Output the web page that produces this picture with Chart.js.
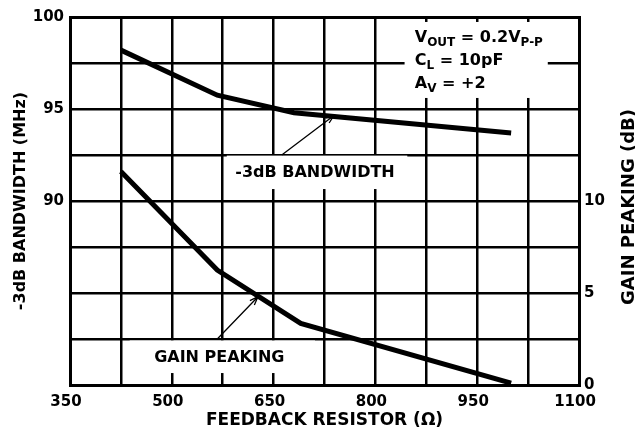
<!DOCTYPE html>
<html lang="en">
<head>
  <meta charset="UTF-8" />
  <title>Bandwidth and Gain Peaking vs Feedback Resistor</title>
  <script src="https://cdn.jsdelivr.net/npm/chart.js"></script>
  <style>
    body { margin: 0; background: #fff; }
    canvas { display: block; }
  </style>
</head>
<body>
  <canvas id="chart" width="635" height="432"></canvas>

  <script>
    // data
    const bwResistor = [425, 567, 680, 1000];
    const bwMHz      = [98.2, 95.75, 94.8, 93.7];
    const gpResistor = [425, 567, 690, 1000];
    const gpDB       = [11.6, 6.25, 3.35, 0.1];

    // tick labels shown (grid every half step)
    const xTickLabels  = [350, 500, 650, 800, 950, 1100];
    const bwTickLabels = [90, 95, 100];
    const gpTickLabels = [0, 5, 10];

    const FONT = 'DejaVu Sans';
    const bold = size => ({ family: FONT, size: size, weight: 'bold' });

    // white boxes, labels and arrows, placed in data units (x: ohm, y: MHz)
    const overlay = {
      id: 'overlay',
      beforeDatasetsDraw(chart) {
        const ctx = chart.ctx, x = chart.scales.x, y = chart.scales.y;
        const box = (x0, x1, y0, y1) => {
          const l = x.getPixelForValue(x0), r = x.getPixelForValue(x1);
          const t = y.getPixelForValue(y0), b = y.getPixelForValue(y1);
          ctx.fillRect(l, t, r - l, b - t);
        };
        ctx.save();
        ctx.fillStyle = '#fff';
        box(843, 1054, 99.73, 95.6);     // conditions box
        ctx.fillRect(x.getPixelForValue(581), y.getPixelForValue(92.5) + 0.6,
                     x.getPixelForValue(847) - x.getPixelForValue(581),
                     y.getPixelForValue(90.65) - y.getPixelForValue(92.5) - 0.6);
        box(438, 711, 82.42, 80.65);      // gain peaking label box
        ctx.restore();
      },
      afterDatasetsDraw(chart) {
        const ctx = chart.ctx, x = chart.scales.x, y = chart.scales.y;
        const px = v => x.getPixelForValue(v), py = v => y.getPixelForValue(v);
        ctx.save();
        ctx.fillStyle = '#000';
        ctx.strokeStyle = '#000';
        ctx.textBaseline = 'alphabetic';

        ctx.font = 'bold 16px ' + FONT;
        ctx.textAlign = 'center';
        ctx.fillText('-3dB BANDWIDTH', px(711), py(91.3));
        ctx.fillText('GAIN PEAKING', px(570), py(81.25));

        // conditions text with subscripts
        ctx.textAlign = 'left';
        const line = (parts, yv) => {
          let cx = px(858);
          const base = py(yv);
          parts.forEach(([txt, sub]) => {
            ctx.font = 'bold ' + (sub ? 12 : 16) + 'px ' + FONT;
            ctx.fillText(txt, cx, base + (sub ? 4 : 0));
            cx += ctx.measureText(txt).width;
          });
        };
        line([['V'], ['OUT', 1], [' = 0.2V'], ['P-P', 1]], 98.64);
        line([['C'], ['L', 1], [' = 10pF']], 97.39);
        line([['A'], ['V', 1], [' = +2']], 96.14);

        // arrows
        const arrow = (x0, y0, x1, y1) => {
          const ax = px(x0), ay = py(y0), bx = px(x1), by = py(y1);
          const ang = Math.atan2(by - ay, bx - ax);
          ctx.lineWidth = 1.3;
          ctx.beginPath();
          ctx.moveTo(ax, ay); ctx.lineTo(bx, by);
          ctx.moveTo(bx - 9 * Math.cos(ang - 0.35), by - 9 * Math.sin(ang - 0.35));
          ctx.lineTo(bx, by);
          ctx.lineTo(bx - 9 * Math.cos(ang + 0.35), by - 9 * Math.sin(ang + 0.35));
          ctx.stroke();
        };
        arrow(662, 92.5, 739, 94.65);
        arrow(567, 82.5, 627, 84.8);

        // right axis title, reads bottom to top
        const a = chart.chartArea;
        ctx.font = 'bold 18px ' + FONT;
        ctx.textAlign = 'center';
        ctx.textBaseline = 'middle';
        ctx.translate(chart.width - 6, (a.top + a.bottom) / 2 + 6);
        ctx.rotate(-Math.PI / 2);
        ctx.fillText('GAIN PEAKING (dB)', 0, 0);
        ctx.restore();
      }
    };

    const edge = w => ctx => (ctx.index === 0 || ctx.index === ctx.chart.scales[ctx.scale.id].ticks.length - 1) ? 3 : w;

    new Chart(document.getElementById('chart'), {
      type: 'line',
      data: {
        datasets: [
          {
            label: '-3dB BANDWIDTH',
            data: bwResistor.map((r, i) => ({ x: r, y: bwMHz[i] })),
            yAxisID: 'y'
          },
          {
            label: 'GAIN PEAKING',
            data: gpResistor.map((r, i) => ({ x: r, y: gpDB[i] })),
            yAxisID: 'y1'
          }
        ]
      },
      options: {
        responsive: false,
        animation: false,
        devicePixelRatio: 1,
        layout: { padding: { top: 17, left: 0, right: 0, bottom: 0 } },
        elements: {
          line: { borderColor: '#000', borderWidth: 5, tension: 0, borderCapStyle: 'butt' },
          point: { radius: 0 }
        },
        plugins: { legend: { display: false }, tooltip: { enabled: false } },
        scales: {
          x: {
            type: 'linear', min: 350, max: 1100,
            afterFit: s => { s.height = 47; },
            grid: { color: '#000', lineWidth: edge(2.5), drawTicks: false },
            border: { color: '#000', width: 3 },
            ticks: {
              stepSize: 75, autoSkip: false, maxRotation: 0, padding: 8, labelOffset: -4,
              color: '#000', font: bold(15),
              callback: v => xTickLabels.includes(v) ? v : ''
            },
            title: {
              display: true, text: 'FEEDBACK RESISTOR (\u03A9)', color: '#000',
              font: bold(17), padding: { top: 0, bottom: 1 }
            }
          },
          y: {
            position: 'left', min: 80, max: 100,
            afterFit: s => { s.width = 70; },
            grid: { color: '#000', lineWidth: edge(2.5), drawTicks: false },
            border: { color: '#000', width: 3 },
            ticks: {
              stepSize: 2.5, autoSkip: false, padding: 6, color: '#000', font: bold(15),
              callback: v => bwTickLabels.includes(v) ? v : ''
            },
            title: {
              display: true, text: '-3dB BANDWIDTH (MHz)', color: '#000',
              font: bold(16), padding: { top: 11, bottom: 0 }
            }
          },
          y1: {
            position: 'right', min: 0, max: 20,
            afterFit: s => { s.width = 56; },
            grid: { drawOnChartArea: false, drawTicks: false },
            border: { color: '#000', width: 3 },
            ticks: {
              stepSize: 2.5, autoSkip: false, padding: 5, color: '#000', font: bold(15),
              callback: v => gpTickLabels.includes(v) ? v : ''
            }
          }
        }
      },
      plugins: [overlay]
    });
  </script>
</body>
</html>
